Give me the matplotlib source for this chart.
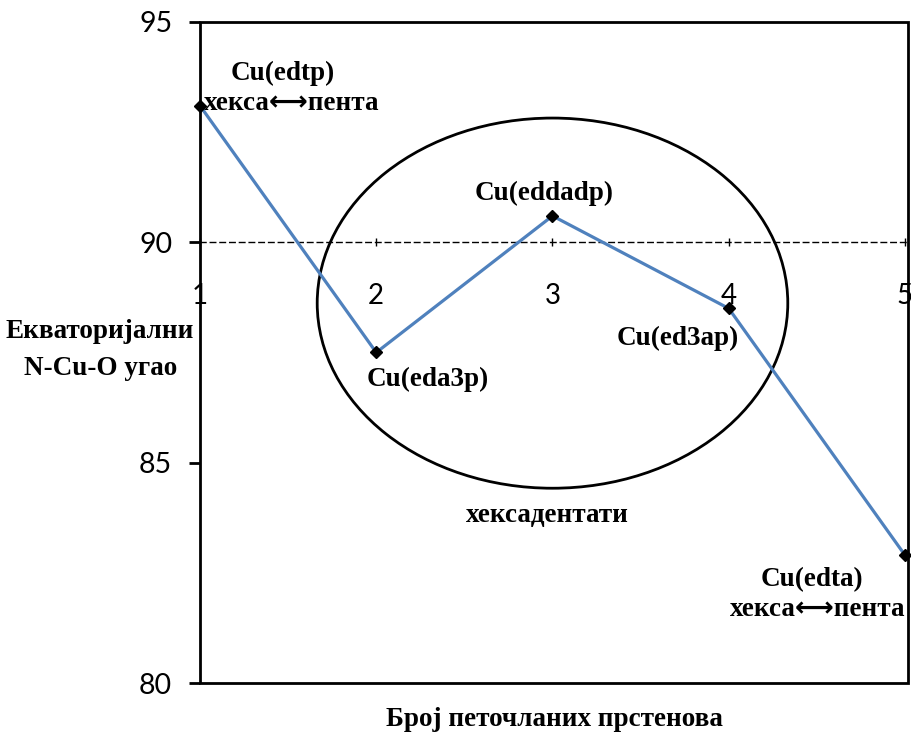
import matplotlib
matplotlib.use('Agg')
import matplotlib.pyplot as plt
from matplotlib.patches import Ellipse, Rectangle

# data
rings = [1, 2, 3, 4, 5]
angle = [93.1, 87.5, 90.6, 88.5, 82.9]
names = ['Cu(edtp)', 'Cu(eda3p)', 'Cu(eddadp)', 'Cu(ed3ap)', 'Cu(edta)']
yticks = [80, 85, 90, 95]
swap = 'хекса⟷пента'

serif = ['Liberation Serif', 'DejaVu Sans']
bold = dict(family=serif, fontweight='bold', fontsize=19.5)

fig = plt.figure(figsize=(9.12, 7.33), dpi=100)
ax = fig.add_axes([0.2193, 0.0682, 0.7763, 0.9018])

ax.plot(rings, angle, color='#4F81BD', lw=2.3, marker='D', ms=6.5,
        mfc='black', mec='black', zorder=5, clip_on=False)

ax.set_xlim(1, 5.017)
ax.set_ylim(80, 95)

# x axis crosses at 90, drawn dashed
ax.spines['bottom'].set_position(('data', 90))
ax.spines['bottom'].set_linestyle((0, (4, 3)))
ax.spines['bottom'].set_linewidth(1.0)
for s in ['left', 'top', 'right']:
    ax.spines[s].set_visible(False)
ax.add_patch(Rectangle((0, 0), 1, 1, transform=ax.transAxes, fill=False,
                       lw=2, ec='black', clip_on=False, zorder=4))

ax.set_xticks(rings)
ax.set_yticks(yticks)
ax.tick_params(axis='x', direction='inout', length=6, width=1, pad=26,
               labelsize=20)
ax.tick_params(axis='y', direction='out', length=8, width=2, pad=12,
               labelsize=20.5)
for lab in ax.get_xticklabels() + ax.get_yticklabels():
    lab.set_family('Lato')

# ellipse around the hexadentates
ax.add_patch(Ellipse((3.0, 88.62), 2.67, 8.4, fill=False, lw=2, ec='black', zorder=3))

# labels
ax.text(1.47, 93.84, names[0], ha='center', va='center', **bold)
ax.text(1.02, 93.16, swap, ha='left', va='center', **bold)
ax.text(2.95, 91.12, names[2], ha='center', va='center', **bold)
ax.text(2.29, 86.88, names[1], ha='center', va='center', **bold)
ax.text(3.71, 87.83, names[3], ha='center', va='center', **bold)
ax.text(2.97, 83.81, 'хексадентати', ha='center', va='center', **bold)
ax.text(4.47, 82.34, names[4], ha='center', va='center', **bold)
ax.text(5.0, 81.66, swap, ha='right', va='center', **bold)

ax.set_xlabel('Број петочланих прстенова', **bold)
ax.xaxis.set_label_coords(0.5, -0.036)
ax.set_ylabel('Екваторијални\nN-Cu-O угао', rotation=0, ha='center',
              va='center', linespacing=1.6, **bold)
ax.yaxis.set_label_coords(-0.141, 0.504)

fig.savefig('out.png', dpi=100)
